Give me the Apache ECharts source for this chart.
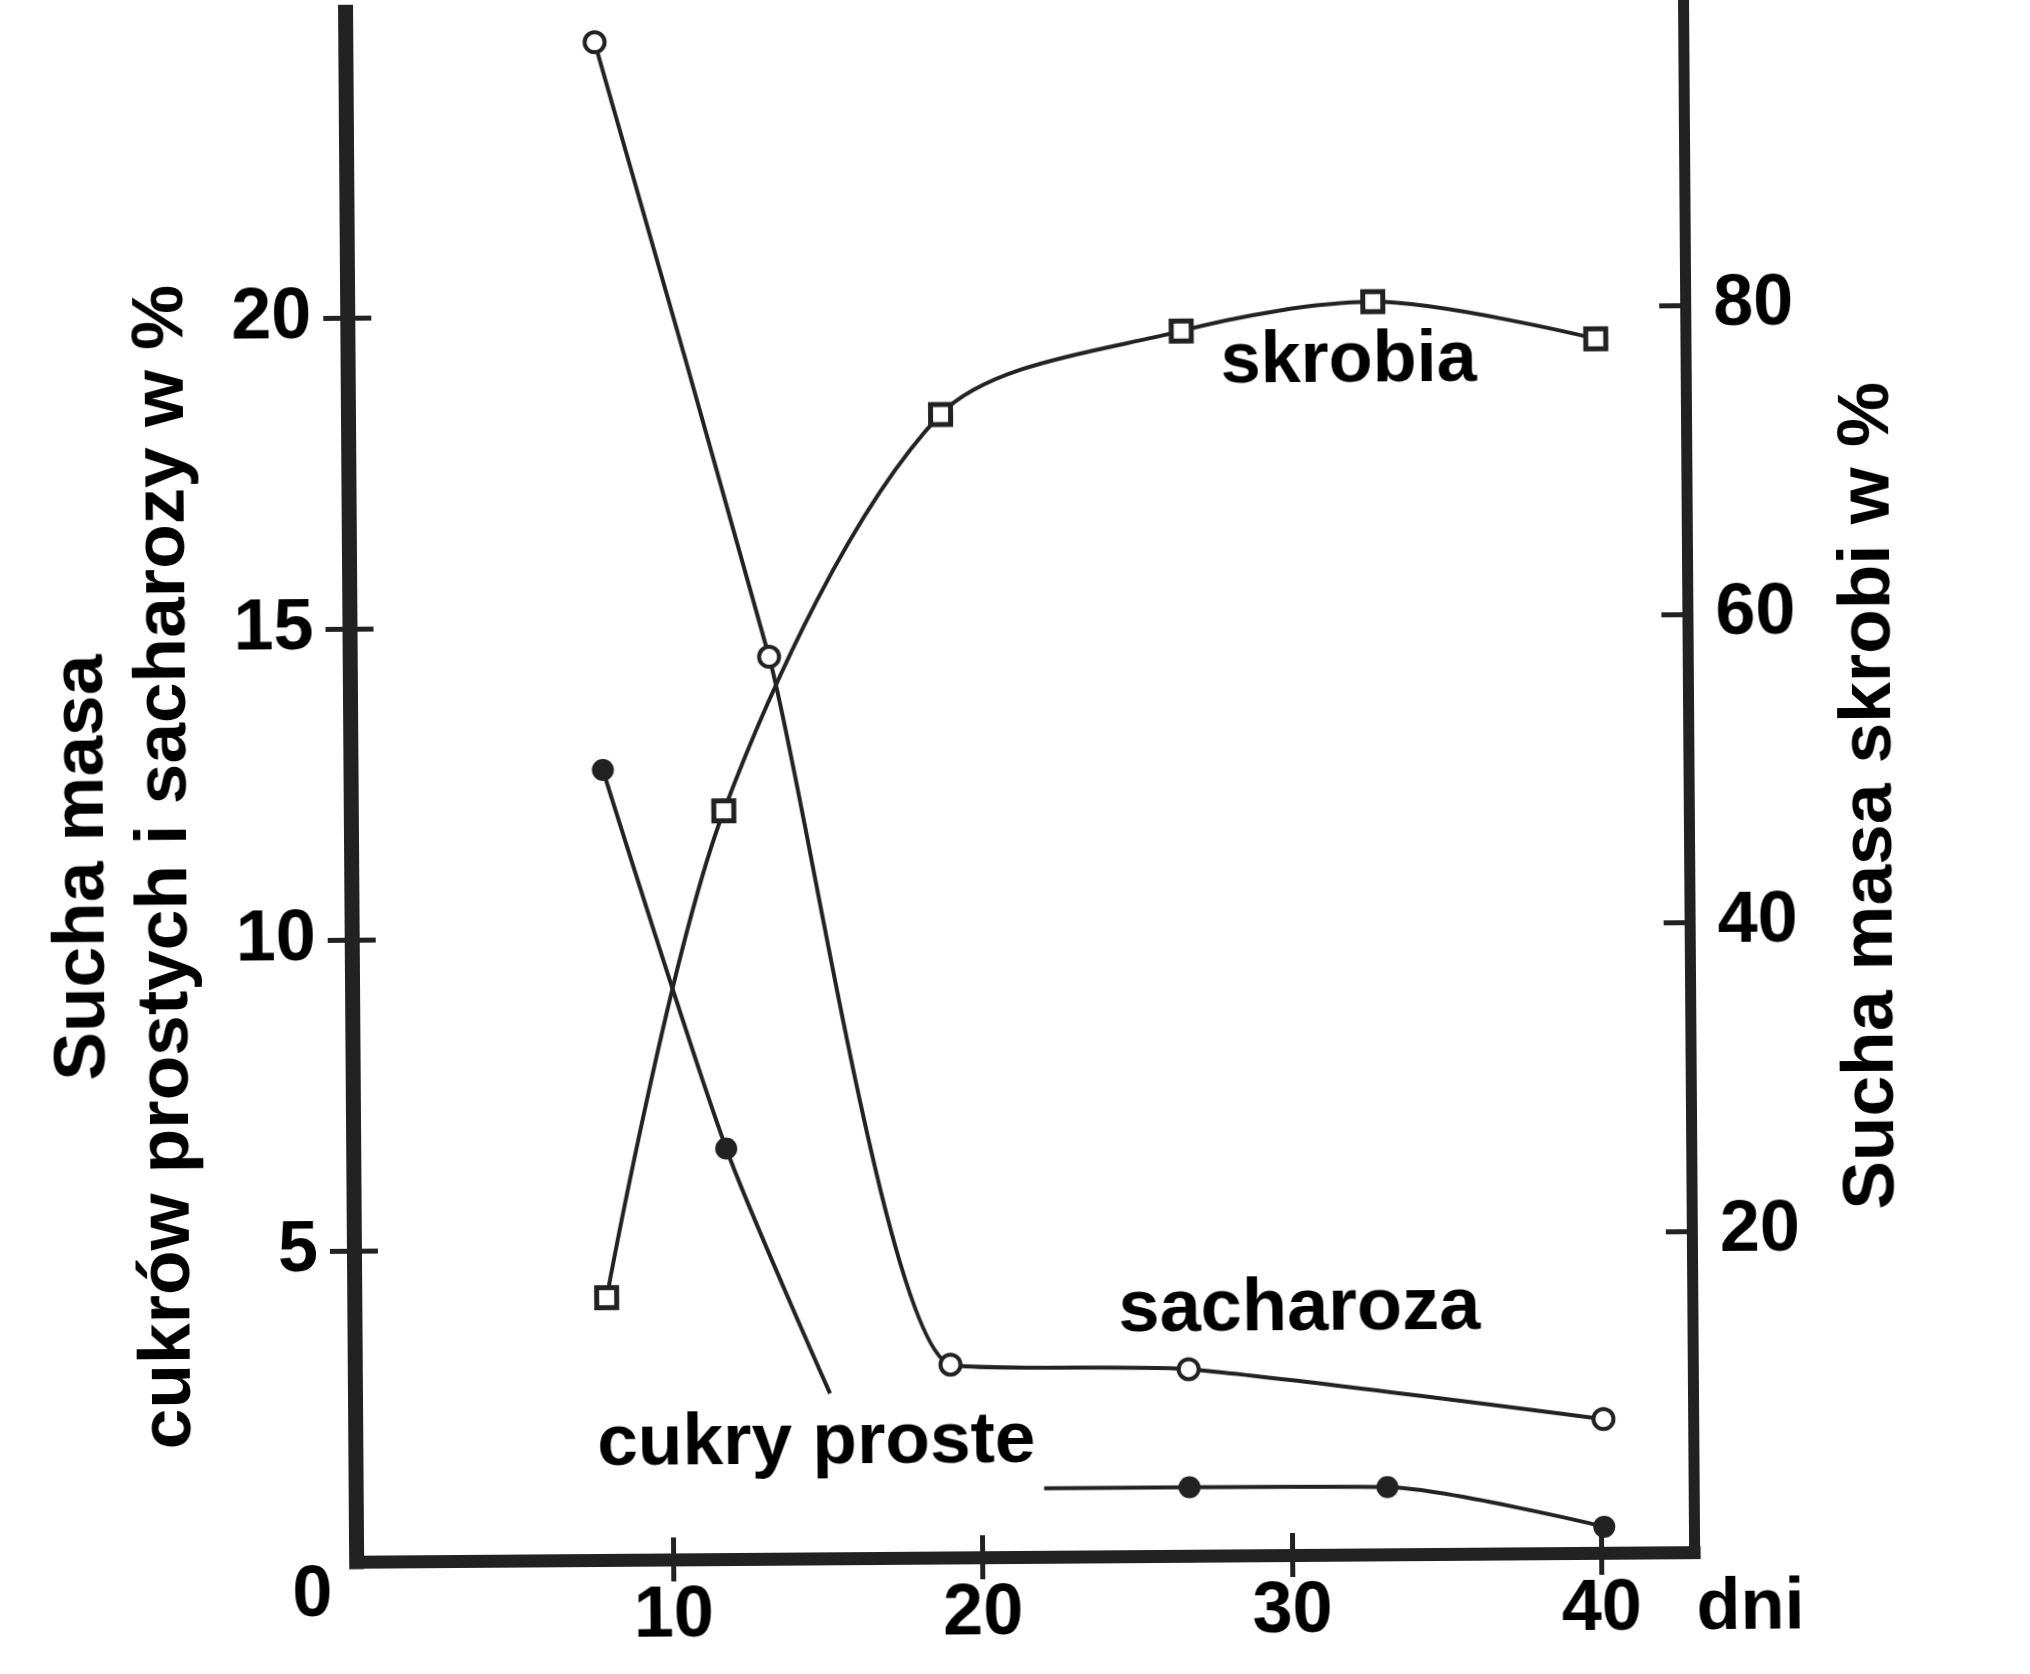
<!DOCTYPE html>
<html>
<head>
<meta charset="utf-8">
<title>Sucha masa</title>
<script src="https://cdn.jsdelivr.net/npm/echarts@6.0.0/dist/echarts.min.js"></script>
<style>
  html, body { margin: 0; padding: 0; background: #fff; overflow: hidden; }
  /* the scan is tilted a little, so the whole chart is too */
  #chart { width: 2030px; height: 1674px; transform: rotate(-0.41deg); }
</style>
</head>
<body>
<div id="chart"></div>
<script>
// days after flowering and dry-mass shares
const sacharozaDays = [7.8, 13.3, 19.0, 26.7, 40.1];
const sacharozaVals = [24.4, 14.5, 3.1, 3.0, 2.15];

// the line is broken where the "cukry proste" label sits; ends without a marker
const cukryDays = [7.9, 11.8, 15.1, null, 22.0, 26.7, 33.1, 40.1];
const cukryVals = [12.7, 6.6, 2.65, null, 1.1, 1.1, 1.08, 0.42];
const cukryMarked = [true, true, false, false, false, true, true, true];

const skrobiaDays = [7.9, 11.8, 18.9, 26.7, 32.9, 40.1];
const skrobiaVals = [16.2, 47.7, 73.3, 78.6, 80.4, 77.9];

const dayTicks = [10, 20, 30, 40];
const leftTicks = [5, 10, 15, 20];
const rightTicks = [20, 40, 60, 80];

const ink = "#222";
const font = "'Liberation Sans', Arial, sans-serif";

const chart = echarts.init(document.getElementById("chart"));

function pairs(days, vals) {
  return days.map((d, i) => [d, vals[i]]);
}

const labelStyle = {
  color: "#000",
  fontSize: 72,
  fontWeight: "bold",
  fontFamily: font,
};

const tickStyle = { color: ink, width: 5 };

function freeText(text, x, y, size, align) {
  return {
    type: "text",
    x: x,
    y: y,
    silent: true,
    style: {
      text: text,
      fill: "#000",
      fontSize: size,
      fontWeight: "bold",
      fontFamily: font,
      align: align,
      textAlign: align,
      verticalAlign: "middle",
      textVerticalAlign: "middle",
    },
  };
}

const option = {
  backgroundColor: "#fff",
  animation: false,
  grid: { left: 351, right: 341, top: 2, bottom: 117, outerBoundsMode: "none", containLabel: false },
  xAxis: [
    {
      type: "value",
      min: -0.26,
      max: 43.0,
      position: "bottom",
      axisLine: { show: true, onZero: false, lineStyle: { color: ink, width: 13, cap: "square" } },
      axisTick: { show: true, inside: false, length: 22, customValues: dayTicks, lineStyle: tickStyle },
      axisLabel: Object.assign({ customValues: dayTicks, margin: 21 }, labelStyle),
      splitLine: { show: false },
      name: "dni",
      nameLocation: "end",
      nameGap: 2,
      nameMoveOverlap: false,
      nameTextStyle: Object.assign({ align: "left", verticalAlign: "top", padding: [21, 0, 0, 0] }, labelStyle),
    },
    {
      type: "value",
      min: -0.26,
      max: 43.0,
      position: "bottom",
      axisLine: { show: false, onZero: false },
      axisTick: { show: true, inside: true, length: 22, customValues: dayTicks, lineStyle: tickStyle },
      axisLabel: { show: false },
      splitLine: { show: false },
    },
  ],
  yAxis: [
    {
      type: "value",
      min: 0,
      max: 25,
      interval: 5,
      position: "left",
      axisLine: { show: true, onZero: false, lineStyle: { color: ink, width: 15, cap: "square" } },
      axisTick: { show: true, inside: false, length: 24, customValues: leftTicks, lineStyle: tickStyle },
      axisLabel: Object.assign({ customValues: leftTicks, margin: 36 }, labelStyle),
      splitLine: { show: false },
      name: "Sucha masa\ncukrów prostych i sacharozy w %",
      nameLocation: "middle",
      nameRotate: 90,
      nameGap: 144,
      nameMoveOverlap: false,
      nameTextStyle: {
        color: "#000",
        fontSize: 73,
        fontWeight: "bold",
        fontFamily: font,
        lineHeight: 83,
        padding: [0, 163, 0, 0],
      },
    },
    {
      type: "value",
      min: -0.8,
      max: 100,
      position: "right",
      axisLine: { show: true, onZero: false, lineStyle: { color: ink, width: 11, cap: "square" } },
      axisTick: { show: true, inside: true, length: 26, customValues: rightTicks, lineStyle: tickStyle },
      axisLabel: Object.assign({ customValues: rightTicks, margin: 28 }, labelStyle),
      splitLine: { show: false },
      name: "Sucha masa skrobi w %",
      nameLocation: "middle",
      nameRotate: 90,
      nameGap: 140,
      nameMoveOverlap: false,
      nameTextStyle: {
        color: "#000",
        fontSize: 73,
        fontWeight: "bold",
        fontFamily: font,
        lineHeight: 83,
        padding: [0, 45, 0, 0],
      },
    },
    {
      type: "value",
      min: 0,
      max: 25,
      interval: 5,
      position: "left",
      axisLine: { show: false, onZero: false },
      axisTick: { show: true, inside: true, length: 24, customValues: leftTicks, lineStyle: tickStyle },
      axisLabel: { show: false },
      splitLine: { show: false },
    },
  ],
  series: [
    {
      name: "sacharoza",
      type: "line",
      xAxisIndex: 0,
      yAxisIndex: 0,
      data: pairs(sacharozaDays, sacharozaVals),
      smooth: 0.2,
      symbol: "circle",
      symbolSize: 20,
      itemStyle: { color: "#fff", borderColor: ink, borderWidth: 4 },
      lineStyle: { color: ink, width: 4 },
      emphasis: { disabled: true },
      z: 3,
    },
    {
      name: "cukry proste",
      type: "line",
      xAxisIndex: 0,
      yAxisIndex: 0,
      data: cukryDays.map((d, i) =>
        d === null ? "-" : { value: [d, cukryVals[i]], symbol: cukryMarked[i] ? "circle" : "none" }
      ),
      connectNulls: false,
      smooth: 0.25,
      symbol: "circle",
      symbolSize: 22,
      itemStyle: { color: ink },
      lineStyle: { color: ink, width: 4 },
      emphasis: { disabled: true },
      z: 3,
    },
    {
      name: "skrobia",
      type: "line",
      xAxisIndex: 0,
      yAxisIndex: 1,
      data: pairs(skrobiaDays, skrobiaVals),
      smooth: 0.3,
      symbol: "rect",
      symbolSize: 20,
      itemStyle: { color: "#fff", borderColor: ink, borderWidth: 5 },
      lineStyle: { color: ink, width: 4 },
      emphasis: { disabled: true },
      z: 3,
    },
  ],
  graphic: [
    freeText("0", 307, 1591, 72, "center"),
    freeText("skrobia", 1224, 364, 72, "left"),
    freeText("sacharoza", 1115, 1312, 74, "left"),
    freeText("cukry proste", 593, 1442, 73, "left"),
  ],
};

chart.setOption(option);
</script>
</body>
</html>
